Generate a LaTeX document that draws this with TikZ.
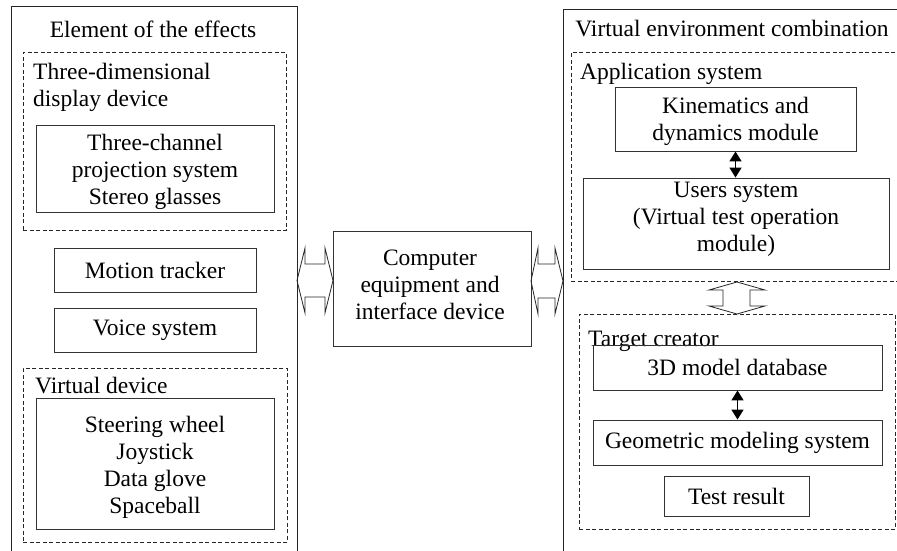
\documentclass[tikz,border=0pt]{standalone}
\usepackage{fontspec}
\setmainfont{Liberation Serif}
\usetikzlibrary{arrows.meta}
\tikzset{
  x=1pt,y=-1pt,
  every node/.style={font=\fontsize{23.5}{27}\selectfont, inner sep=0pt},
  solidbox/.style={draw=black!80, line width=0.9pt, align=center},
  txt/.style={align=center},
  dashbox/.style={draw=black!85, line width=0.9pt, dash pattern=on 4pt off 2.5pt},
  outerbox/.style={draw=black!85, line width=0.9pt},
  lbl/.style={anchor=west, align=left},
  blk/.style={draw=black!85, line width=0.8pt, line join=miter},
  dbl/.style={line width=1.7pt, {Triangle[length=10pt,width=12pt]}-{Triangle[length=10pt,width=12pt]}},
}
\begin{document}
\begin{tikzpicture}
\useasboundingbox (0,0) rectangle (897,551);
\clip (0,0) rectangle (897,551);
% left side
\node[outerbox, minimum width=286pt, minimum height=600pt, anchor=north west] (lout) at (11,6) {};
\node (ltitle) at (153,29) {Element of the effects};
\node[dashbox, minimum width=263pt, minimum height=178pt, anchor=north west] (disp) at (23,52) {};
\node[lbl] (displbl) at (33,87.5) {Three-dimensional\\display device};
\node[solidbox, minimum width=238pt, minimum height=87pt] (chan) at (155,168.5) {};
\node[txt] (chant) at (155,171.5) {Three-channel\\projection system\\Stereo glasses};
\node[solidbox, minimum width=202pt, minimum height=44pt] (motion) at (155,270) {Motion tracker};
\node[solidbox, minimum width=202pt, minimum height=44pt] (voice) at (155,330) {Voice system};
\node[dashbox, minimum width=264pt, minimum height=174pt, anchor=north west] (vdev) at (23,368) {};
\node[lbl] (vdevlbl) at (35,385.5) {Virtual device};
\node[solidbox, minimum width=238pt, minimum height=131pt] (wheel) at (155,463.5) {};
\node[txt] (wheelt) at (155,467) {Steering wheel\\Joystick\\Data glove\\Spaceball};
% centre
\node[solidbox, minimum width=198pt, minimum height=115pt] (comp) at (432,288.5) {};
\node[txt] (compt) at (430,284.5) {Computer\\equipment and\\interface device};
% right side
\node[outerbox, minimum width=400pt, minimum height=600pt, anchor=north west] (rout) at (563,9) {};
\node (rtitle) at (732,29) {Virtual environment combination};
\node[dashbox, minimum width=340pt, minimum height=229pt, anchor=north west] (app) at (571,52) {};
\node[lbl] (applbl) at (580,73.5) {Application system};
\node[solidbox, minimum width=241pt, minimum height=64pt] (kin) at (735.5,119) {};
\node[txt] (kint) at (735.5,121.5) {Kinematics and\\dynamics module};
\node[solidbox, minimum width=306pt, minimum height=91pt] (users) at (736,223.5) {};
\node[txt] (userst) at (736,219.5) {Users system\\(Virtual test operation\\module)};
\node[dashbox, minimum width=316pt, minimum height=215pt, anchor=north west] (target) at (579,314) {};
\node[lbl] (targetlbl) at (588,341.5) {Target creator};
\node[solidbox, minimum width=289pt, minimum height=45pt] (db) at (737.5,367.5) {3D model database};
\node[solidbox, minimum width=289pt, minimum height=45pt] (geo) at (737.5,442.5) {Geometric modeling system};
\node[solidbox, minimum width=145pt, minimum height=40pt] (test) at (736.5,496) {Test result};
% small double arrows
\draw[dbl] (kin.south) -- (kin.south |- users.north);
\draw[dbl] (db.south) -- (db.south |- geo.north);
% block arrows
\draw[blk] (297,280.5) -- (305,248) -- (305,264) -- (325,264) -- (325,248) -- (333,280.5)
  -- (325,313) -- (325,297) -- (305,297) -- (305,313) -- cycle;
\draw[blk] (531,281) -- (538,248) -- (538,264) -- (555,264) -- (555,248) -- (563,281)
  -- (555,314) -- (555,298) -- (538,298) -- (538,314) -- cycle;
\draw[blk] (737,282) -- (765,290) -- (750,290) -- (750,306) -- (765,306) -- (737,314)
  -- (709,306) -- (723,306) -- (723,290) -- (709,290) -- cycle;
\end{tikzpicture}
\end{document}
